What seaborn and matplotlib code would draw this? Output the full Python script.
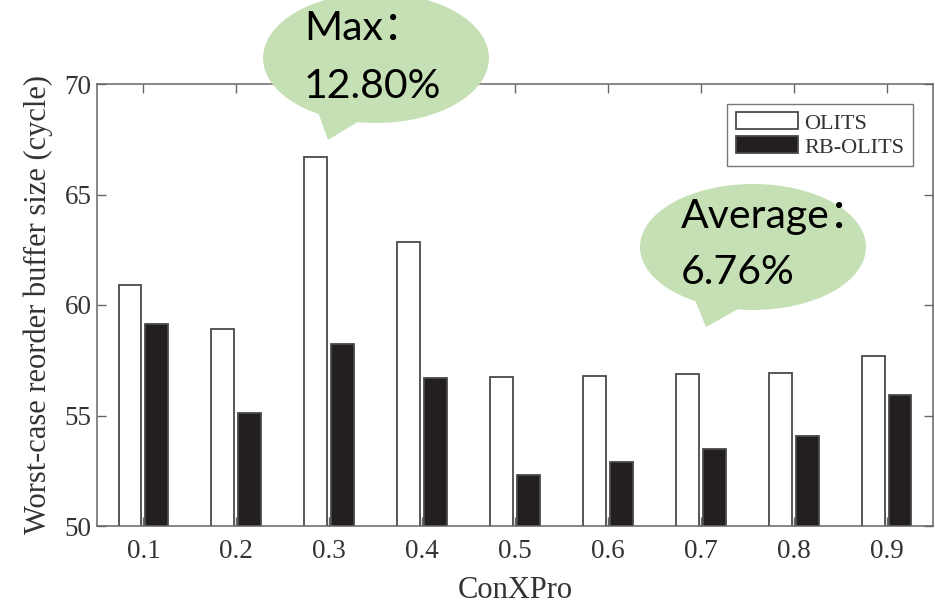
import matplotlib
matplotlib.use("Agg")
import matplotlib.pyplot as plt
from matplotlib.patches import Ellipse, Polygon
import pandas as pd
import seaborn as sns

# ConXPro settings and worst-case reorder buffer sizes (cycles)
conxpro = ["0.1", "0.2", "0.3", "0.4", "0.5", "0.6", "0.7", "0.8", "0.9"]
olits = [60.9, 58.9, 66.7, 62.85, 56.76, 56.8, 56.88, 56.94, 57.67]
rb_olits = [59.13, 55.1, 58.23, 56.7, 52.3, 52.9, 53.5, 54.05, 55.95]
series_names = ["OLITS", "RB-OLITS"]
y_ticks = [50, 55, 60, 65, 70]

df = pd.DataFrame({
    "ConXPro": conxpro * 2,
    "size": olits + rb_olits,
    "scheme": [series_names[0]] * len(conxpro) + [series_names[1]] * len(conxpro),
})

sns.set_theme(style="white")
plt.rcParams["font.family"] = ["Liberation Serif", "DejaVu Serif"]

W, H = 935, 606
fig = plt.figure(figsize=(W / 100, H / 100), dpi=100)
ax = fig.add_axes([97 / W, 1 - 526 / H, (933 - 97) / W, (526 - 84) / H])

text_color = "#333333"
spine_color = "#666666"

sns.barplot(
    data=df, x="ConXPro", y="size", hue="scheme", ax=ax,
    palette={"OLITS": "white", "RB-OLITS": "#231f20"},
    width=0.58, gap=0.15, edgecolor="#4a4a4a", linewidth=1.3,
    errorbar=None, saturation=1,
)

ax.set_ylim(50, 70)
ax.set_xlim(-0.5, len(conxpro) - 0.5)
ax.set_yticks(y_ticks)
ax.set_xlabel("ConXPro", fontsize=22, color=text_color, labelpad=9)
ax.set_ylabel("Worst-case reorder buffer size (cycle)", fontsize=22,
              color=text_color, labelpad=8)

for s in ax.spines.values():
    s.set_visible(True)
    s.set_color(spine_color)
    s.set_linewidth(1.1)

ax.tick_params(axis="both", which="major", direction="in", length=6.5,
               width=1.0, color=spine_color, labelsize=19.5,
               labelcolor=text_color, top=True, right=True,
               bottom=True, left=True)
ax.tick_params(axis="x", pad=9)
ax.tick_params(axis="y", pad=4)

handles, labels = ax.get_legend_handles_labels()
leg = ax.legend(handles, labels, loc="upper right", fontsize=16,
                frameon=True, fancybox=False, framealpha=1,
                edgecolor="#777777", handlelength=2.8, handleheight=0.8,
                handletextpad=0.3, labelspacing=0.12, borderpad=0.38,
                borderaxespad=0.9)
leg.get_frame().set_linewidth(1.0)
for t in leg.get_texts():
    t.set_color(text_color)


def px(x, y):
    return (x / W, 1 - y / H)


bubble = "#c5e0b4"
callout_font = ["Lato", "Noto Sans CJK SC"]
callout_size = 29.5

# "Max" callout
fig.add_artist(Ellipse(px(376, 58), 226 / W, 130 / H, transform=fig.transFigure,
                       facecolor=bubble, edgecolor="none", zorder=5))
fig.add_artist(Polygon([px(318, 112), px(328, 140), px(364, 118)], closed=True,
                       transform=fig.transFigure, facecolor=bubble,
                       edgecolor="none", zorder=5))
fig.text(*px(304, 40), "Max：", fontsize=callout_size, family=callout_font,
         color="black", va="baseline", ha="left", zorder=6)
fig.text(*px(304, 98), "12.80%", fontsize=callout_size, family=callout_font,
         color="black", va="baseline", ha="left", zorder=6)

# "Average" callout
fig.add_artist(Ellipse(px(753, 247), 226 / W, 126 / H, transform=fig.transFigure,
                       facecolor=bubble, edgecolor="none", zorder=5))
fig.add_artist(Polygon([px(695, 300), px(706, 327), px(740, 308)], closed=True,
                       transform=fig.transFigure, facecolor=bubble,
                       edgecolor="none", zorder=5))
fig.text(*px(681, 228), "Average：", fontsize=callout_size, family=callout_font,
         color="black", va="baseline", ha="left", zorder=6)
fig.text(*px(681, 284), "6.76%", fontsize=callout_size, family=callout_font,
         color="black", va="baseline", ha="left", zorder=6)

fig.savefig("out.png", dpi=100)
